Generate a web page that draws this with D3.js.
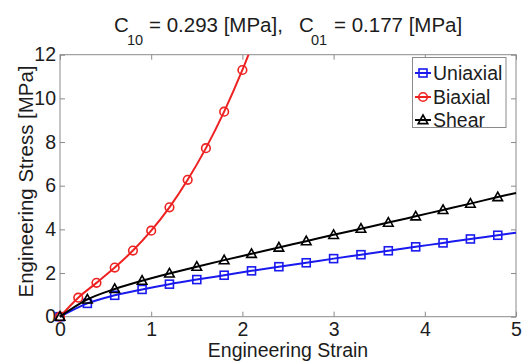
<!DOCTYPE html>
<html><head><meta charset="utf-8">
<script src="https://cdn.jsdelivr.net/npm/d3@7"></script>
<style>
html,body{margin:0;padding:0;background:#fff;}
svg{display:block;font-family:"Liberation Sans",Arial,sans-serif;}
</style></head>
<body><svg id="c" width="523" height="363"></svg>
<script>
// ---- data ----
const strainUS = [0,0.3,0.6,0.9,1.2,1.5,1.8,2.1,2.4,2.7,3.0,3.3,3.6,3.9,4.2,4.5,4.8,5.0];
const uniaxial = [0,0.61,0.98,1.25,1.49,1.70,1.90,2.10,2.29,2.47,2.66,2.84,3.02,3.20,3.38,3.56,3.73,3.85];
const shear    = [0,0.79,1.27,1.65,1.98,2.29,2.59,2.88,3.17,3.46,3.75,4.03,4.31,4.60,4.89,5.18,5.48,5.67];
const strainB  = [0,0.2,0.4,0.6,0.8,1.0,1.2,1.4,1.6,1.8,2.0,2.2];
const biaxial  = [0,0.87,1.55,2.25,3.03,3.94,5.01,6.27,7.72,9.39,11.30,13.46];
const xTicks = [0,1,2,3,4,5];
const yTicks = [0,2,4,6,8,10,12];
const seriesNames = ["Uniaxial","Biaxial","Shear"];
const seriesColors = ["#1a1aee","#ee2222","#000000"];
const markerMaxStrain = 4.8; // markers drawn only at sampled points

const svg = d3.select("#c");
const L=60, R=516, T=54.7, B=316.7;
const x = d3.scaleLinear().domain([0,5]).range([L,R]);
const y = d3.scaleLinear().domain([0,12]).range([B,T]);
const FS = 19.5, AX="#8a8a8a", TXT="#1c1c1c";

svg.append("defs").append("clipPath").attr("id","clip")
  .append("rect").attr("x",L-6).attr("y",T).attr("width",R-L+12).attr("height",B-T+6);

// box
svg.append("rect").attr("x",L).attr("y",T).attr("width",R-L).attr("height",B-T)
  .attr("fill","none").attr("stroke",AX).attr("stroke-width",1);

// axes (ticks inward)
const gx = svg.append("g").attr("transform",`translate(0,${B})`)
  .call(d3.axisBottom(x).tickValues(xTicks).tickSizeInner(-5).tickSizeOuter(0).tickPadding(7).tickFormat(d3.format("d")));
const gxt = svg.append("g").attr("transform",`translate(0,${T})`)
  .call(d3.axisTop(x).tickValues(xTicks).tickSizeInner(-5).tickSizeOuter(0).tickFormat(""));
const gy = svg.append("g").attr("transform",`translate(${L},0)`)
  .call(d3.axisLeft(y).tickValues(yTicks).tickSizeInner(-5).tickSizeOuter(0).tickPadding(4).tickFormat(d3.format("d")));
const gyr = svg.append("g").attr("transform",`translate(${R},0)`)
  .call(d3.axisRight(y).tickValues(yTicks).tickSizeInner(-5).tickSizeOuter(0).tickFormat(""));
[gx,gxt,gy,gyr].forEach(g=>{
  g.select(".domain").remove();
  g.selectAll(".tick line").attr("stroke",AX);
  g.selectAll("text").attr("font-size",FS).attr("fill",TXT).attr("font-family","Liberation Sans, Arial, sans-serif");
});
gx.selectAll("text").attr("dy","0.62em");

// labels
svg.append("text").attr("x",(L+R)/2).attr("y",357).attr("text-anchor","middle")
  .attr("font-size",FS).attr("fill",TXT).text("Engineering Strain");
svg.append("text").attr("transform",`translate(32.5,181.5) rotate(-90)`).attr("text-anchor","middle")
  .attr("font-size",FS).attr("fill",TXT)
  .attr("textLength",232).attr("lengthAdjust","spacingAndGlyphs")
  .text("Engineering Stress [MPa]");

// title
const TF = 20.5, SF = 14.5;
const title = svg.append("text").attr("y",31.5).attr("font-size",TF).attr("fill",TXT);
title.append("tspan").attr("x",114).text("C");
title.append("tspan").attr("x",127).attr("font-size",SF).attr("dy",13).text("10");
title.append("tspan").attr("x",149).attr("dy",-13).text("= 0.293 [MPa],");
title.append("tspan").attr("x",299).text("C");
title.append("tspan").attr("x",311).attr("font-size",SF).attr("dy",13).text("01");
title.append("tspan").attr("x",334).attr("dy",-13).text("= 0.177 [MPa]");

// series
const plot = svg.append("g").attr("clip-path","url(#clip)");
const line = d3.line().x(d=>x(d[0])).y(d=>y(d[1])).curve(d3.curveMonotoneX);
const sets = [
  {xs:strainUS, ys:uniaxial, c:seriesColors[0], m:"square"},
  {xs:strainB,  ys:biaxial,  c:seriesColors[1], m:"circle"},
  {xs:strainUS, ys:shear,    c:seriesColors[2], m:"triangle"}
];
function drawMarker(g, type, cx, cy, color){
  if(type==="square") g.append("rect").attr("x",cx-4).attr("y",cy-4).attr("width",8).attr("height",8)
      .attr("fill","none").attr("stroke",color).attr("stroke-width",1.6);
  else if(type==="circle") g.append("circle").attr("cx",cx).attr("cy",cy).attr("r",4.3)
      .attr("fill","none").attr("stroke",color).attr("stroke-width",1.6);
  else g.append("path").attr("d",`M${cx},${cy-5}L${cx+4.8},${cy+3.6}L${cx-4.8},${cy+3.6}Z`)
      .attr("fill","none").attr("stroke",color).attr("stroke-width",1.6);
}
sets.forEach(s=>{
  const pts = s.xs.map((v,i)=>[v,s.ys[i]]);
  plot.append("path").attr("d",line(pts)).attr("fill","none").attr("stroke",s.c).attr("stroke-width",2);
  pts.filter(p=>p[0]<=markerMaxStrain+1e-9).forEach(p=>drawMarker(plot,s.m,x(p[0]),y(p[1]),s.c));
});

// legend
const lg = svg.append("g");
lg.append("rect").attr("x",412.5).attr("y",57.5).attr("width",93.5).attr("height",70)
  .attr("fill","#fff").attr("stroke",AX).attr("stroke-width",1);
const legY=[73,97,120], legM=["square","circle","triangle"];
seriesNames.forEach((n,i)=>{
  const c=seriesColors[i];
  lg.append("line").attr("x1",415).attr("x2",431).attr("y1",legY[i]).attr("y2",legY[i]).attr("stroke",c).attr("stroke-width",2);
  drawMarker(lg,legM[i],423,legY[i],c);
  lg.append("text").attr("x",433).attr("y",legY[i]).attr("dy","0.35em").attr("font-size",FS).attr("fill",TXT).text(n);
});
</script></body></html>
